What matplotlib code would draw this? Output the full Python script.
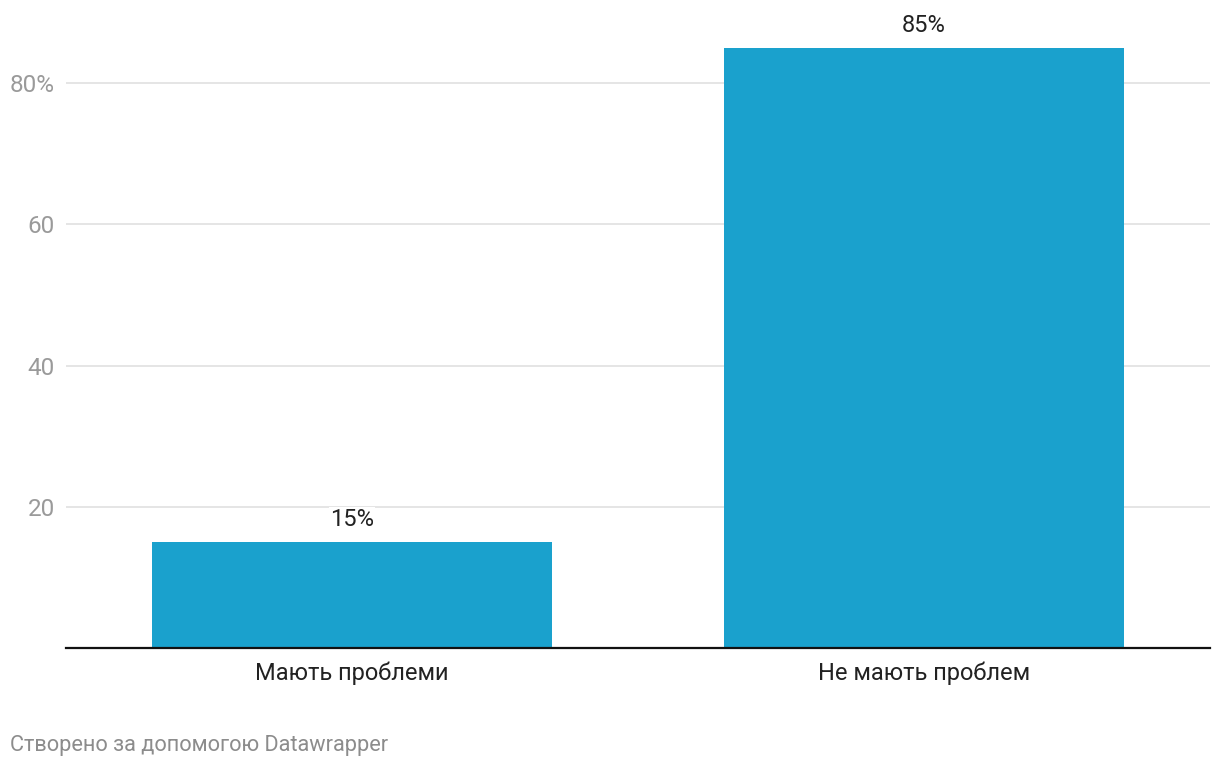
import matplotlib.pyplot as plt

categories = ["Мають проблеми", "Не мають проблем"]
values = [15, 85]
y_ticks = [20, 40, 60, 80]
y_tick_labels = ["20", "40", "60", "80%"]

plt.rcParams["font.family"] = ["Roboto", "DejaVu Sans"]

W, H = 1220, 768
fig = plt.figure(figsize=(W / 100, H / 100), dpi=100)
# axes placed in pixel coordinates: left 66, right 1210, bottom 648, top ~12
ax = fig.add_axes([66 / W, 1 - 648 / H, (1210 - 66) / W, (648 - 12.4) / H])

x = list(range(len(categories)))
ax.bar(x, values, width=0.70, color="#1aa1cd", zorder=2)
ax.set_xlim(-0.5, 1.5)
ax.set_ylim(0, 90)

ax.set_yticks(y_ticks)
ax.set_yticklabels(y_tick_labels)
ax.grid(axis="y", color="#e0e0e0", linewidth=1.2, zorder=0)
ax.tick_params(axis="y", length=0, labelsize=17.5, labelcolor="#9a9a9a", pad=8)

ax.set_xticks(x)
ax.set_xticklabels(categories)
ax.tick_params(axis="x", length=0, labelsize=17, labelcolor="#222222", pad=10)

for side in ["top", "right", "left"]:
    ax.spines[side].set_visible(False)
ax.spines["bottom"].set_color("#111111")
ax.spines["bottom"].set_linewidth(1.6)
ax.spines["bottom"].set_zorder(3)

for xi, v in zip(x, values):
    ax.annotate(f"{v}%", (xi, v), xytext=(0, 8), textcoords="offset points",
                ha="center", va="bottom", fontsize=17, color="#222222",
                bbox=dict(boxstyle="square,pad=0.05", fc="white", ec="none"),
                zorder=4)

fig.text(10 / W, 1 - 745 / H, "Створено за допомогою Datawrapper",
         ha="left", va="center", fontsize=15.7, color="#8c8c8c")

fig.savefig("out.png", dpi=100)
